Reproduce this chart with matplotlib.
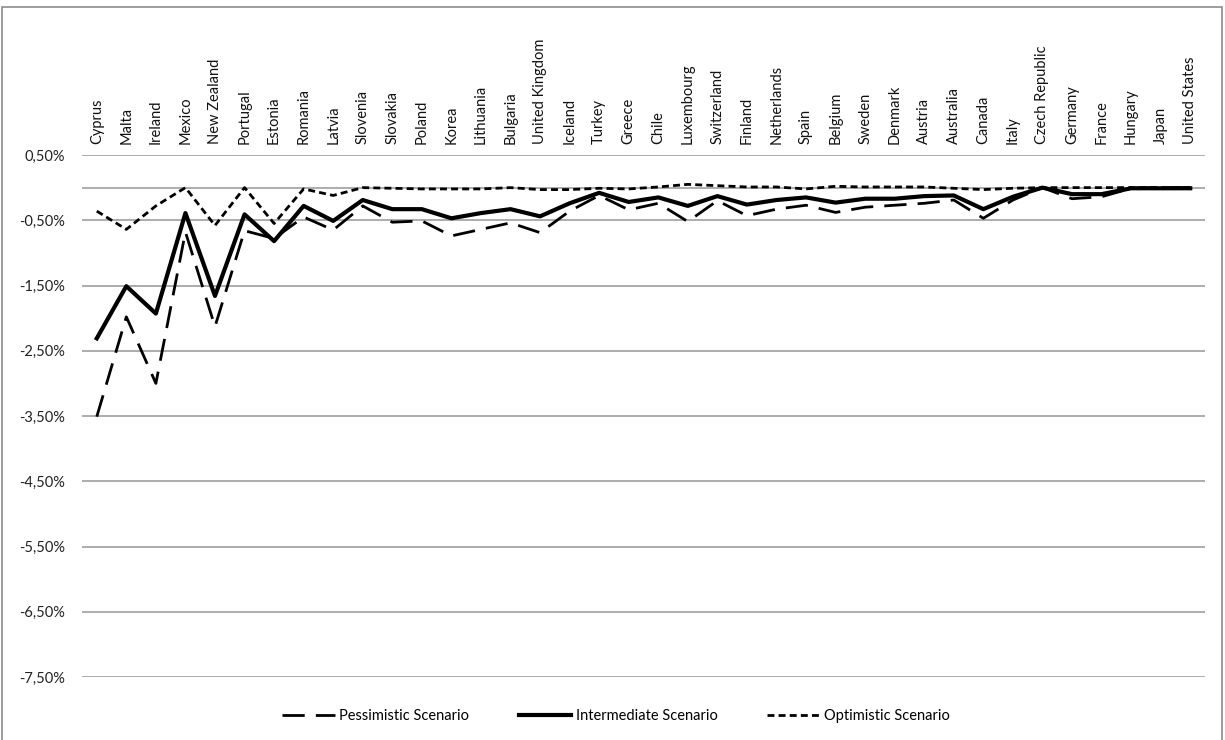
import matplotlib
matplotlib.use('Agg')
import matplotlib.pyplot as plt
from matplotlib.patches import Rectangle

plt.rcParams.update({
    'font.family': ['Lato', 'DejaVu Sans'],
    'font.size': 10.5,
})

# ── Data (% change) ──
countries = ["Cyprus", "Malta", "Ireland", "Mexico", "New Zealand", "Portugal", "Estonia",
             "Romania", "Latvia", "Slovenia", "Slovakia", "Poland", "Korea", "Lithuania",
             "Bulgaria", "United Kingdom", "Iceland", "Turkey", "Greece", "Chile", "Luxembourg",
             "Switzerland", "Finland", "Netherlands", "Spain", "Belgium", "Sweden", "Denmark",
             "Austria", "Australia", "Canada", "Italy", "Czech Republic", "Germany", "France",
             "Hungary", "Japan", "United States"]

pessimistic = [-3.51, -1.98, -3.00, -0.68, -2.13, -0.66, -0.78, -0.45, -0.65, -0.28,
               -0.53, -0.51, -0.74, -0.64, -0.54, -0.69, -0.36, -0.12, -0.34, -0.24,
               -0.52, -0.20, -0.43, -0.33, -0.27, -0.38, -0.30, -0.27, -0.24, -0.19,
               -0.47, -0.19, 0.00, -0.17, -0.14, -0.01, 0.00, 0.00]

intermediate = [-2.31, -1.51, -1.93, -0.39, -1.66, -0.41, -0.82, -0.28, -0.51, -0.19,
                -0.33, -0.33, -0.47, -0.39, -0.33, -0.44, -0.24, -0.08, -0.22, -0.15,
                -0.28, -0.13, -0.26, -0.19, -0.15, -0.23, -0.17, -0.17, -0.13, -0.12,
                -0.33, -0.14, 0.00, -0.10, -0.10, -0.01, -0.01, -0.01]

optimistic = [-0.36, -0.64, -0.28, 0.00, -0.58, 0.00, -0.55, -0.02, -0.12, 0.00,
              -0.01, -0.02, -0.02, -0.02, 0.00, -0.03, -0.03, -0.01, -0.02, 0.01,
              0.05, 0.03, 0.01, 0.01, -0.02, 0.02, 0.01, 0.01, 0.01, -0.01,
              -0.03, -0.01, 0.00, 0.00, 0.00, 0.00, 0.00, 0.00]

yticks = [0.5, -0.5, -1.5, -2.5, -3.5, -4.5, -5.5, -6.5, -7.5]

fig = plt.figure(figsize=(12.25, 7.4), dpi=100)
ax = fig.add_axes([82 / 1225, 1 - 677 / 740, (1205 - 82) / 1225, (677 - 155) / 740])

x = list(range(len(countries)))
grid_c = '#a6a6a6'
for v in yticks:
    ax.axhline(v, color=grid_c, lw=1.3, zorder=1)
ax.axhline(0, color=grid_c, lw=1.3, zorder=1)

ax.plot(x, pessimistic, color='black', lw=2.0, dashes=(8, 4), label='Pessimistic Scenario', zorder=3)
ax.plot(x, intermediate, color='black', lw=3.0, label='Intermediate Scenario', zorder=4)
ax.plot(x, optimistic, color='black', lw=2.0, dashes=(2.5, 1.5), label='Optimistic Scenario', zorder=5)

ax.set_xlim(-0.5, len(countries) - 0.5)
ax.set_ylim(-7.5, 0.5)
ax.set_yticks(yticks)
ax.set_yticklabels([f"{v:.2f}%".replace('.', ',') for v in yticks], color='#222222')
ax.tick_params(axis='y', length=0, pad=12)

ax.xaxis.tick_top()
ax.set_xticks(x)
ax.set_xticklabels(countries, rotation=90, va='bottom', ha='center', color='#111111')
ax.tick_params(axis='x', length=0, pad=8)

for s in ax.spines.values():
    s.set_visible(False)

fig.legend(loc='center', bbox_to_anchor=(0.503, 1 - 716 / 740), ncol=3, frameon=False,
           handlelength=3.6, handletextpad=0.3, columnspacing=3.4, fontsize=10.5)

# outer chart border
fig.patches.append(Rectangle((2 / 1225, -0.01), 1220 / 1225, 1 - 7 / 740 + 0.01,
                             transform=fig.transFigure, fill=False, edgecolor='#8c8c8c', lw=1.2))

fig.savefig('out.png', dpi=100, facecolor='white')
